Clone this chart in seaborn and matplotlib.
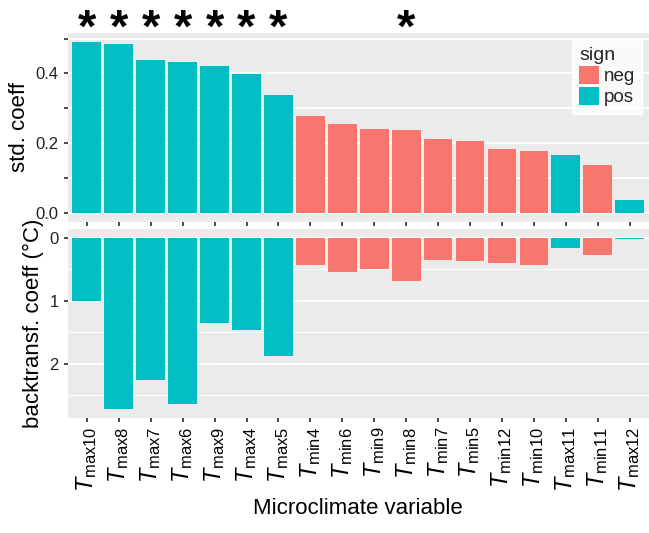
import pandas as pd
import seaborn as sns
import matplotlib.pyplot as plt
from matplotlib.ticker import FixedLocator
from matplotlib.transforms import blended_transform_factory

# Werte
variables = ["max10", "max8", "max7", "max6", "max9", "max4", "max5", "min4", "min6",
             "min9", "min8", "min7", "min5", "min12", "min10", "max11", "min11", "max12"]
std_coeff = [0.491, 0.484, 0.440, 0.434, 0.422, 0.397, 0.337, 0.279, 0.256,
             0.241, 0.237, 0.212, 0.205, 0.183, 0.179, 0.166, 0.137, 0.037]
backtransf = [1.00, 2.72, 2.25, 2.63, 1.35, 1.47, 1.88, 0.43, 0.55,
              0.50, 0.68, 0.36, 0.37, 0.40, 0.43, 0.17, 0.27, 0.03]
signs = ["pos"] * 7 + ["neg"] * 8 + ["pos", "neg", "pos"]
significant = [True] * 7 + [False, False, False, True] + [False] * 7

labels = [r"$\mathit{T}_{\mathrm{" + v + "}}$" for v in variables]
df = pd.DataFrame({"var": labels, "std": std_coeff, "bt": backtransf, "sign": signs})

palette = {"neg": "#F8766D", "pos": "#00BFC4"}

sns.set_theme(style="darkgrid", rc={
    "axes.facecolor": "#EBEBEB",
    "grid.color": "white",
    "grid.linewidth": 1.3,
    "xtick.bottom": True,
    "ytick.left": True,
    "xtick.major.size": 3,
    "ytick.major.size": 3,
    "xtick.color": "#333333",
    "ytick.color": "#333333",
})
plt.rcParams["font.family"] = ["Liberation Sans", "DejaVu Sans"]
plt.rcParams["mathtext.fontset"] = "custom"
plt.rcParams["mathtext.rm"] = "Liberation Sans"
plt.rcParams["mathtext.it"] = "Liberation Sans:italic"

fig = plt.figure(figsize=(6.49, 5.33), dpi=100)
ax1 = fig.add_axes([0.1043, 0.5844, 0.8955, 0.3537])
ax2 = fig.add_axes([0.1043, 0.2158, 0.8955, 0.3546])

# 1. standardisierte Koeffizienten
sns.barplot(data=df, x="var", y="std", hue="sign", hue_order=["neg", "pos"],
            order=labels, palette=palette, dodge=False, width=0.9,
            saturation=1, linewidth=0, ax=ax1)
ax1.set_xlim(-0.6, len(labels) - 0.4)
ax1.set_ylim(-0.0245, 0.516)
ax1.set_yticks([0.0, 0.1, 0.2, 0.3, 0.4, 0.5])
ax1.set_yticklabels(["0.0", "", "0.2", "", "0.4", ""], fontsize=12, color="#222222")
ax1.set_xticks(range(len(labels)))
ax1.set_xticklabels([])
ax1.set_xlabel("")
ax1.set_ylabel("std. coeff", fontsize=16, color="black")
for s in ax1.spines.values():
    s.set_visible(False)

leg = ax1.legend(title="sign", loc="upper right", bbox_to_anchor=(0.989, 0.963),
                 borderaxespad=0, fontsize=13.5, title_fontsize=14, frameon=True,
                 fancybox=False, handlelength=1.05, handleheight=1.05,
                 labelspacing=0.1, handletextpad=0.25, borderpad=0.4,
                 alignment="left")
leg.get_frame().set_facecolor("white")
leg.get_frame().set_edgecolor("white")

# Sternchen fuer signifikante Variablen
trans = blended_transform_factory(ax1.transData, ax1.transAxes)
for i, sig in enumerate(significant):
    if sig:
        ax1.text(i, 0.955, "*", transform=trans, ha="center", va="baseline",
                 fontsize=34, fontweight="bold", color="black", clip_on=False)

# 2. ruecktransformierte Koeffizienten
sns.barplot(data=df, x="var", y="bt", hue="sign", hue_order=["neg", "pos"],
            order=labels, palette=palette, dodge=False, width=0.9,
            saturation=1, linewidth=0, legend=False, ax=ax2)
ax2.set_xlim(-0.6, len(labels) - 0.4)
ax2.set_ylim(2.856, -0.136)
ax2.set_yticks([0, 1, 2])
ax2.set_yticklabels(["0", "1", "2"], fontsize=12, color="#222222")
ax2.yaxis.set_minor_locator(FixedLocator([0.5, 1.5, 2.5]))
ax2.tick_params(axis="y", which="minor", length=0)
ax2.grid(True, which="minor", axis="y", color="white", linewidth=0.7)
ax2.set_xticks(range(len(labels)))
ax2.set_xticklabels(labels, rotation=90, fontsize=17, color="black")
ax2.set_xlabel("Microclimate variable", fontsize=16, color="black", labelpad=4)
ax2.set_ylabel("backtransf. coeff (°C)", fontsize=16, color="black")
for s in ax2.spines.values():
    s.set_visible(False)

fig.align_ylabels([ax1, ax2])
plt.savefig("out.png", dpi=100)
